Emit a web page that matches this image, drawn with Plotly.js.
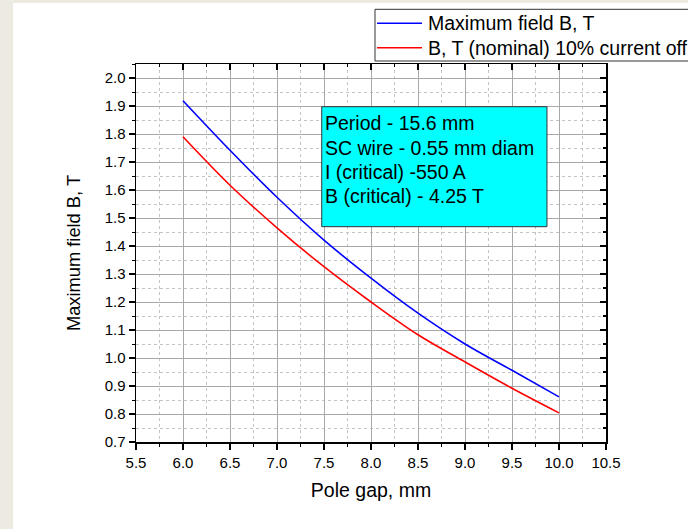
<!DOCTYPE html>
<html>
<head>
<meta charset="utf-8">
<script src="https://cdn.plot.ly/plotly-3.0.1.min.js"></script>
<style>
html,body{margin:0;padding:0;background:#ECEAE1;width:688px;height:529px;overflow:hidden;}
#chart{position:absolute;left:13px;top:3px;width:675px;height:526px;}
</style>
</head>
<body>
<div id="chart"></div>
<script>
// Data
const poleGap = [6.0, 6.5, 7.0, 7.5, 8.0, 8.5, 9.0, 9.5, 10.0];
const maxField = [1.919, 1.742, 1.574, 1.421, 1.285, 1.160, 1.050, 0.956, 0.861];
const nominalField = [1.790, 1.617, 1.465, 1.326, 1.200, 1.083, 0.986, 0.892, 0.804];
const seriesNames = ["Maximum field B, T", "B, T (nominal) 10% current off"];
const seriesColors = ["#0000FF", "#FF0000"];
const infoLines = ["Period - 15.6 mm", "SC wire - 0.55 mm diam", "I (critical) -550 A", "B (critical) - 4.25 T"];
const xTitle = "Pole gap, mm";
const yTitle = "Maximum field B, T";

const FONT = "Liberation Sans, Arial, sans-serif";

const traces = [
  {x: poleGap, y: maxField, name: seriesNames[0], mode: "lines", showlegend: false,
   line: {color: seriesColors[0], width: 1.6, shape: "spline"}},
  {x: poleGap, y: nominalField, name: seriesNames[1], mode: "lines", showlegend: false,
   line: {color: seriesColors[1], width: 1.6, shape: "spline"}}
];

const xr = [5.5, 10.5], yr = [0.7, 2.05];

// legend box (drawn as shapes + text, clipped at right edge like the reference)
const legRows = [1.1077, 1.0431];
const legendShapes = [
  {type: "rect", xref: "paper", yref: "paper", x0: 0.5085, x1: 1.25, y0: 1.0079, y1: 1.1447,
   fillcolor: "#FFFFFF", line: {color: "#333", width: 1}}
];
const legendAnn = [];
seriesNames.forEach((n, i) => {
  legendShapes.push({type: "line", xref: "paper", yref: "paper", x0: 0.5128, x1: 0.6085,
    y0: legRows[i], y1: legRows[i], line: {color: seriesColors[i], width: 1.6}});
  legendAnn.push({xref: "paper", yref: "paper", x: 0.6191, y: legRows[i], xanchor: "left", yanchor: "middle",
    showarrow: false, text: n, font: {size: 19.5, family: FONT, color: "#000"}, borderpad: 0});
});

// info box text, one line each
const infoY = [1.8382, 1.7502, 1.6642, 1.5770];
const infoAnn = infoLines.map((t, i) => ({xref: "x", yref: "y", x: 7.476, y: infoY[i],
  xanchor: "left", yanchor: "middle", xshift: 2, align: "left", showarrow: false, borderpad: 0,
  text: t, font: {size: 19.5, family: FONT, color: "#000"}}));

const layout = {
  width: 675, height: 526,
  paper_bgcolor: "#FFFFFF", plot_bgcolor: "#FFFFFF",
  margin: {l: 123, r: 82, t: 61, b: 87, autoexpand: false},
  font: {family: FONT, color: "#000"},
  showlegend: false,
  xaxis: {range: xr, dtick: 0.5, tick0: 5.5, tickformat: ".1f",
    showline: true, linecolor: "#000", linewidth: 1.5,
    ticks: "outside", ticklen: 6, tickwidth: 1.3, tickcolor: "#000",
    showgrid: true, gridcolor: "#A8A8A8", gridwidth: 1, zeroline: false,
    tickfont: {size: 15, family: FONT},
    title: {text: xTitle, font: {size: 19.5, family: FONT}, standoff: 14},
    minor: {dtick: 0.25, ticks: "outside", ticklen: 3, tickcolor: "#000", tickwidth: 1,
      showgrid: true, gridcolor: "#C4C4C4", griddash: "dot", gridwidth: 1}},
  yaxis: {range: yr, dtick: 0.1, tick0: 0.7, tickformat: ".1f",
    showline: true, linecolor: "#000", linewidth: 1.5,
    ticks: "outside", ticklen: 6, tickwidth: 1.3, tickcolor: "#000",
    showgrid: true, gridcolor: "#A8A8A8", gridwidth: 1, zeroline: false,
    tickfont: {size: 15, family: FONT},
    title: {text: yTitle, font: {size: 18.3, family: FONT}, standoff: 19},
    minor: {dtick: 0.05, ticks: "outside", ticklen: 3, tickcolor: "#000", tickwidth: 1,
      showgrid: true, gridcolor: "#C4C4C4", griddash: "dot", gridwidth: 1}},
  xaxis2: {range: xr, overlaying: "x", side: "top", anchor: "y",
    dtick: 0.5, tick0: 5.5, showticklabels: false, showgrid: false, zeroline: false,
    showline: true, linecolor: "#000", linewidth: 1.5,
    ticks: "inside", ticklen: 6, tickwidth: 1.3, tickcolor: "#000",
    minor: {dtick: 0.25, ticks: "inside", ticklen: 3, tickcolor: "#000", showgrid: false}},
  yaxis2: {range: yr, overlaying: "y", side: "right", anchor: "x",
    dtick: 0.1, tick0: 0.7, showticklabels: false, showgrid: false, zeroline: false,
    showline: true, linecolor: "#000", linewidth: 1.5,
    ticks: "inside", ticklen: 6, tickwidth: 1.3, tickcolor: "#000",
    minor: {dtick: 0.05, ticks: "inside", ticklen: 3, tickcolor: "#000", showgrid: false}},
  shapes: [
    {type: "rect", xref: "x", yref: "y", x0: 7.476, x1: 9.872, y0: 1.469, y1: 1.8975,
     fillcolor: "#00FFFF", line: {color: "#333", width: 1}, layer: "above"}
  ].concat(legendShapes),
  annotations: infoAnn.concat(legendAnn)
};

// invisible trace so the mirrored top/right axes are drawn
traces.push({x: [], y: [], xaxis: "x2", yaxis: "y2", showlegend: false, hoverinfo: "skip"});

Plotly.newPlot("chart", traces, layout, {displayModeBar: false, staticPlot: true});
</script>
</body>
</html>
